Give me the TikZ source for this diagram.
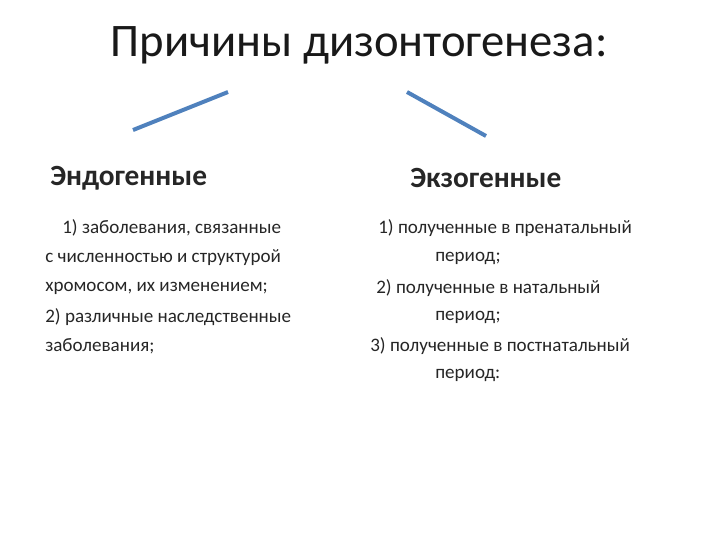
\documentclass[tikz,border=0pt]{standalone}
\usepackage{fontspec}
\setmainfont{Carlito}
\begin{document}
\begin{tikzpicture}[x=0.75pt,y=-0.75pt,
  txt/.style={anchor=west,inner sep=0pt,font=\fontsize{14.3}{16}\selectfont,text=black!85},
  head/.style={anchor=west,inner sep=0pt,font=\bfseries\fontsize{22}{26}\selectfont,text=black!85},
  link/.style={draw={rgb,255:red,79;green,129;blue,189},line width=3pt}]
\useasboundingbox (0,0) rectangle (720,540);
\node[inner sep=0pt,font=\fontsize{35}{40}\selectfont,text=black!90] (title) at (359,45) {Причины дизонтогенеза:};
\coordinate (l1) at (133,130); \coordinate (l2) at (228,92);
\coordinate (r1) at (407,92); \coordinate (r2) at (486,136);
\draw[link] (l1) -- (l2);
\draw[link] (r1) -- (r2);
\node[head] (endo) at (50,178) {Эндогенные};
\node[head] (exo) at (410,178) {Экзогенные};
\node[txt] (a1) at (62,228) {1) заболевания, связанные};
\node[txt] (a2) at (45,258) {с численностью и структурой};
\node[txt] (a3) at (45,288) {хромосом, их изменением;};
\node[txt] (a4) at (45,317) {2) различные наследственные};
\node[txt] (a5) at (45,346) {заболевания;};
\node[txt] (b1) at (378,228) {1) полученные в пренатальный};
\node[txt] (b2) at (435,258) {период;};
\node[txt] (b3) at (376,288) {2) полученные в натальный};
\node[txt] (b4) at (435,317) {период;};
\node[txt] (b5) at (370,346) {3) полученные в постнатальный};
\node[txt] (b6) at (435,375) {период:};
\end{tikzpicture}
\end{document}
